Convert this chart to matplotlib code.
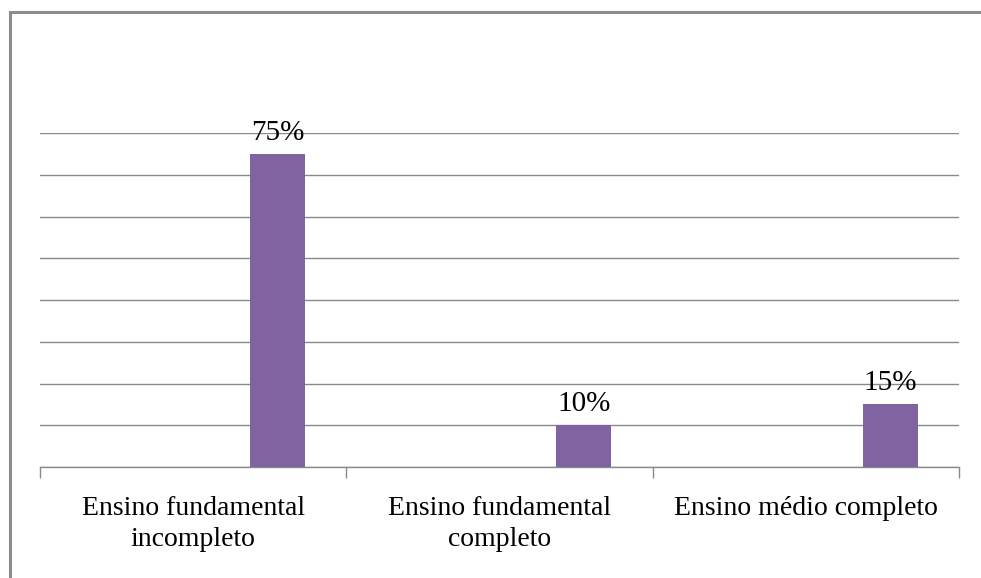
import matplotlib
matplotlib.use("Agg")
import matplotlib.pyplot as plt
from matplotlib.patches import Rectangle
import numpy as np

categories = ["Ensino fundamental\nincompleto", "Ensino fundamental\ncompleto", "Ensino médio completo"]
values = [75, 10, 15]
labels = ["75%", "10%", "15%"]

plt.rcParams['font.family'] = ['Liberation Serif', 'DejaVu Serif']

W, H = 981, 578
fig = plt.figure(figsize=(W / 100, H / 100), dpi=100)

# outer chart frame (runs off the right and bottom edge)
fig.patches.append(Rectangle((10 / W, -0.1), 1.2, 1 - 12 / H + 0.1, transform=fig.transFigure,
                             fill=False, edgecolor="#8c8c8c", linewidth=2.2))

ax = fig.add_axes([40 / W, 1 - 467 / H, (959 - 40) / W, (467 - 133) / H])

x = np.arange(len(categories))
offset = 0.275
bars = ax.bar(x + offset, values, width=0.18, color="#8064A2", zorder=3)

ax.set_xlim(-0.5, 2.5)
ax.set_ylim(0, 80)
ax.set_yticks(np.arange(0, 81, 10))
ax.yaxis.grid(True, color="#8a8a8a", linewidth=1.0)
ax.tick_params(axis="y", left=False, labelleft=False)

ax.set_xticks(x)
ax.set_xticklabels(categories, fontsize=20, linespacing=1.3)
ax.tick_params(axis="x", length=0, pad=21)
ax.set_xticks([-0.5, 0.5, 1.5, 2.5], minor=True)
ax.tick_params(axis="x", which="minor", length=8, color="#8a8a8a", width=1.0)

for s in ["top", "right", "left"]:
    ax.spines[s].set_visible(False)
ax.spines["bottom"].set_color("#8a8a8a")
ax.spines["bottom"].set_linewidth(1.0)

for b, lab in zip(bars, labels):
    ax.annotate(lab, (b.get_x() + b.get_width() / 2, b.get_height()),
                xytext=(0, 6), textcoords="offset points",
                ha="center", va="bottom", fontsize=21, zorder=4)

fig.savefig("out.png", dpi=100)
